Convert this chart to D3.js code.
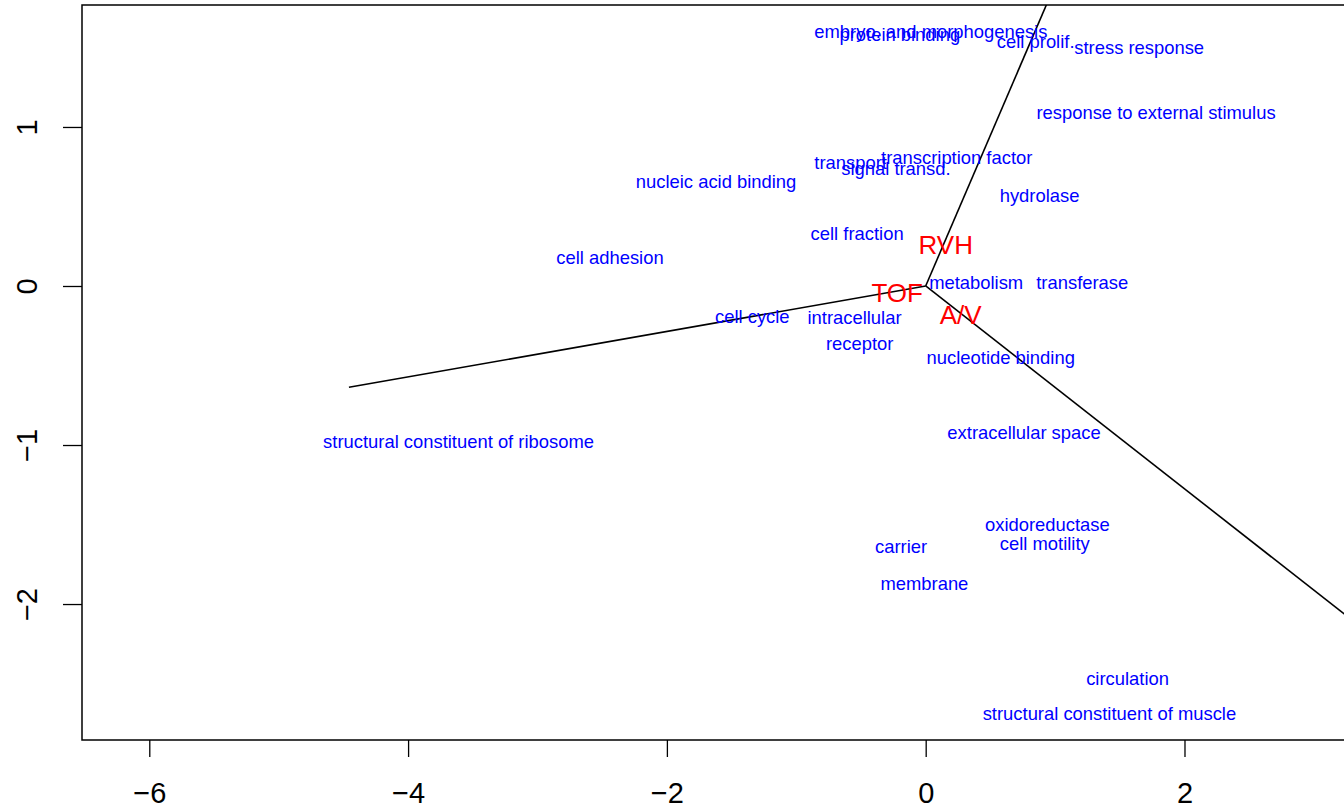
<!DOCTYPE html>
<html>
<head>
<meta charset="utf-8">
<script src="https://cdn.jsdelivr.net/npm/d3@7"></script>
<style>
  html, body { margin: 0; padding: 0; background: #fff; }
  svg { display: block; font-family: "Liberation Sans", Arial, Helvetica, sans-serif; }
</style>
</head>
<body>
<svg id="chart" width="1344" height="809"></svg>
<script>
// Plot window (user coordinates)
const xLimits = [-6.52, 3.6];
const yLimits = [-2.855, 1.767];
const xTicks = [-6, -4, -2, 0, 2];
const yTicks = [-2, -1, 0, 1];

// Category scores (blue labels)
const categoryNames = [
  "embryo. and morphogenesis", "protein binding", "cell prolif.", "stress response",
  "response to external stimulus", "transport", "transcription factor", "signal transd.",
  "nucleic acid binding", "hydrolase", "cell fraction", "cell adhesion",
  "metabolism", "transferase", "cell cycle", "intracellular", "receptor",
  "nucleotide binding", "structural constituent of ribosome", "extracellular space",
  "oxidoreductase", "cell motility", "carrier", "membrane", "circulation",
  "structural constituent of muscle"
];
const categoryX = [
  0.04, -0.20, 0.85, 1.65,
  1.78, -0.58, 0.24, -0.23,
  -1.62, 0.88, -0.53, -2.44,
  0.39, 1.21, -1.34, -0.55, -0.51,
  0.58, -3.61, 0.76,
  0.94, 0.92, -0.19, -0.01, 1.56,
  1.42
];
const categoryY = [
  1.60, 1.585, 1.54, 1.50,
  1.09, 0.78, 0.81, 0.74,
  0.66, 0.57, 0.33, 0.18,
  0.025, 0.02, -0.19, -0.195, -0.36,
  -0.45, -0.98, -0.92,
  -1.50, -1.62, -1.64, -1.87, -2.47,
  -2.69
];

// Variable loadings (red labels + segments from the origin)
const variableNames = ["RVH", "TOF", "A/V"];
const arrowX = [1.05, -4.457, 3.45];
const arrowY = [1.99, -0.637, -2.20];
const variableLabelX = [0.155, -0.22, 0.27];
const variableLabelY = [0.26, -0.04, -0.18];

const svg = d3.select("#chart");
const plotLeft = 82, plotTop = 5, plotBottom = 740, pxPerX = 129.4;
const plotRight = plotLeft + (xLimits[1] - xLimits[0]) * pxPerX;

const x = d3.scaleLinear().domain(xLimits).range([plotLeft, plotRight]);
const y = d3.scaleLinear().domain(yLimits).range([plotBottom, plotTop]);

svg.append("defs").append("clipPath").attr("id", "plotClip")
  .append("rect")
  .attr("x", plotLeft).attr("y", plotTop)
  .attr("width", plotRight - plotLeft).attr("height", plotBottom - plotTop);

const fmt = d => String(d).replace("-", "\u2212");

// Axes
const xAxis = d3.axisBottom(x).tickValues(xTicks).tickSize(17).tickPadding(25).tickFormat(fmt);
const gx = svg.append("g").attr("transform", `translate(0,${plotBottom})`).call(xAxis);
gx.select(".domain").remove();
gx.selectAll("line").attr("stroke", "#000").attr("stroke-width", 1.3);
gx.selectAll("text").attr("font-size", 29).attr("fill", "#000")
  .attr("font-family", "'Liberation Sans', Arial, sans-serif");

const yAxis = d3.axisLeft(y).tickValues(yTicks).tickSize(19).tickPadding(0).tickFormat(fmt);
const gy = svg.append("g").attr("transform", `translate(${plotLeft},0)`).call(yAxis);
gy.select(".domain").remove();
gy.selectAll("line").attr("stroke", "#000").attr("stroke-width", 1.3);
gy.selectAll("text")
  .attr("font-size", 29).attr("fill", "#000")
  .attr("font-family", "'Liberation Sans', Arial, sans-serif")
  .attr("x", 0).attr("dy", 0)
  .attr("text-anchor", "middle")
  .attr("transform", "translate(-45,0) rotate(-90)");

// Plot frame
svg.append("rect")
  .attr("x", plotLeft).attr("y", plotTop)
  .attr("width", plotRight - plotLeft).attr("height", plotBottom - plotTop)
  .attr("fill", "none").attr("stroke", "#000").attr("stroke-width", 1.5);

const plot = svg.append("g").attr("clip-path", "url(#plotClip)");

// Loading segments
const arrows = variableNames.map((n, i) => ({ name: n, x: arrowX[i], y: arrowY[i] }));
plot.selectAll("line.arrow").data(arrows).enter().append("line")
  .attr("class", "arrow")
  .attr("x1", x(0)).attr("y1", y(0))
  .attr("x2", d => x(d.x)).attr("y2", d => y(d.y))
  .attr("stroke", "#000").attr("stroke-width", 1.6);

// Category labels
const cats = categoryNames.map((n, i) => ({ name: n, x: categoryX[i], y: categoryY[i] }));
plot.selectAll("text.cat").data(cats).enter().append("text")
  .attr("class", "cat")
  .attr("x", d => x(d.x)).attr("y", d => y(d.y))
  .attr("dy", "0.36em")
  .attr("text-anchor", "middle")
  .attr("font-size", 18.4)
  .attr("fill", "#0000ff")
  .text(d => d.name);

// Variable labels
const vars = variableNames.map((n, i) => ({ name: n, x: variableLabelX[i], y: variableLabelY[i] }));
plot.selectAll("text.var").data(vars).enter().append("text")
  .attr("class", "var")
  .attr("x", d => x(d.x)).attr("y", d => y(d.y))
  .attr("dy", "0.36em")
  .attr("text-anchor", "middle")
  .attr("font-size", 26)
  .attr("fill", "#ff0000")
  .text(d => d.name);
</script>
</body>
</html>
